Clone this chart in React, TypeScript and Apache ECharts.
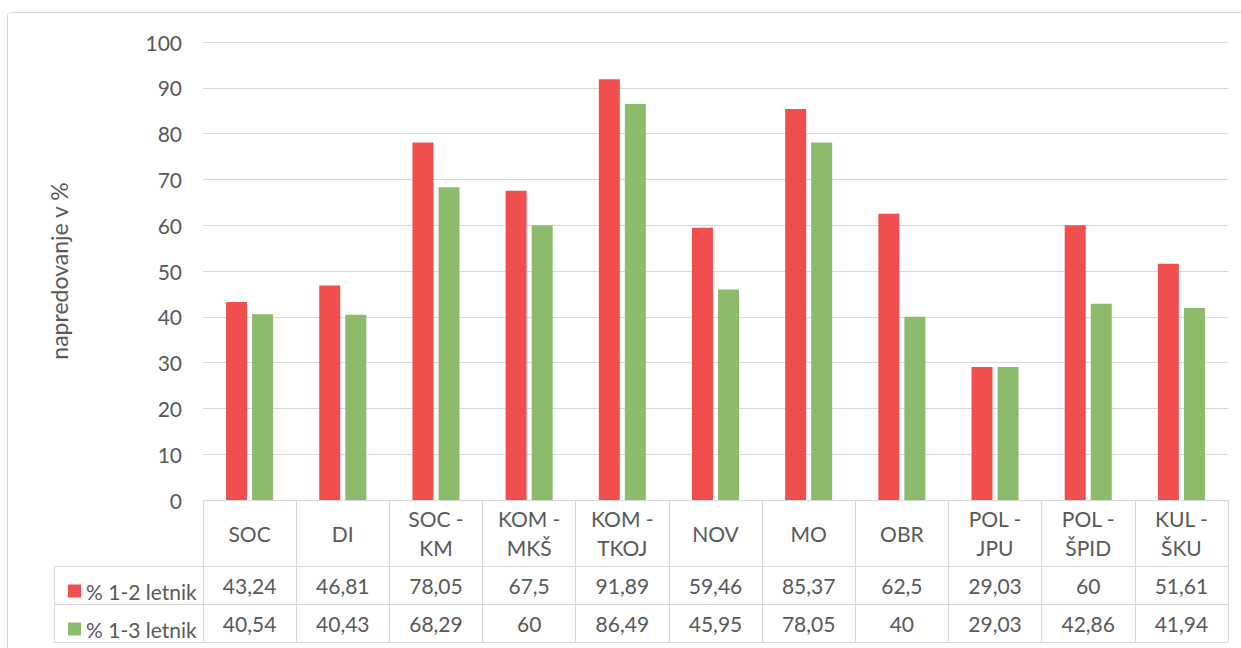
import React, { useEffect, useRef } from "react";
import * as echarts from "echarts";

const categories = ["SOC", "DI", "SOC -\nKM", "KOM -\nMKŠ", "KOM -\nTKOJ", "NOV", "MO", "OBR", "POL -\nJPU", "POL -\nŠPID", "KUL -\nŠKU"];
const seriesNames = ["% 1-2 letnik", "% 1-3 letnik"];
const values12 = [43.24, 46.81, 78.05, 67.5, 91.89, 59.46, 85.37, 62.5, 29.03, 60, 51.61];
const values13 = [40.54, 40.43, 68.29, 60, 86.49, 45.95, 78.05, 40, 29.03, 42.86, 41.94];
const yTicks = { min: 0, max: 100, interval: 10 };
const yName = "napredovanje v %";

const FONT = "Lato";
const TXT = "#595959";
const GRID = "#d9d9d9";
const RED = "#f14f4f";
const GREEN = "#8cbb6c";

const fmt = (v: number) => String(v).replace(".", ",");

export default function App() {
  const ref = useRef<HTMLDivElement>(null);
  useEffect(() => {
    if (!ref.current) return;
    const chart = echarts.init(ref.current, null, { renderer: "svg" });
    const fs = 21;
    const baseX = {
      type: "category" as const,
      data: categories,
      position: "bottom" as const,
      gridIndex: 0,
      boundaryGap: true,
      axisLine: { show: true, lineStyle: { color: GRID, width: 1 } },
      axisTick: { show: false },
      splitLine: { show: false },
    };
    chart.setOption({
      animation: false,
      textStyle: { fontFamily: FONT },
      grid: { left: 203, right: 13, top: 42, bottom: 148, containLabel: false },
      legend: {
        orient: "vertical",
        left: 63,
        top: 575,
        itemWidth: 13,
        itemHeight: 13,
        itemGap: 16,
        icon: "rect",
        data: seriesNames,
        textStyle: { fontFamily: FONT, fontSize: fs, color: TXT, lineHeight: 22 },
      },
      xAxis: [
        {
          ...baseX,
          axisTick: { show: true, length: 142, lineStyle: { color: GRID } },
          axisLabel: { fontFamily: FONT, fontSize: fs, color: TXT, lineHeight: 29, margin: 33, verticalAlign: "middle", interval: 0 },
        },
        {
          ...baseX,
          offset: 66,
          axisLabel: { fontFamily: FONT, fontSize: fs, color: TXT, margin: 19, verticalAlign: "middle", interval: 0, formatter: (_v: string, i: number) => fmt(values12[i]) },
        },
        {
          ...baseX,
          offset: 104,
          axisLabel: { fontFamily: FONT, fontSize: fs, color: TXT, margin: 19, verticalAlign: "middle", interval: 0, formatter: (_v: string, i: number) => fmt(values13[i]) },
        },
        {
          ...baseX,
          offset: 142,
          axisLabel: { show: false },
        },
      ],
      yAxis: {
        type: "value",
        min: yTicks.min,
        max: yTicks.max,
        interval: yTicks.interval,
        name: yName,
        nameLocation: "middle",
        nameRotate: 90,
        nameGap: 133,
        nameTextStyle: { fontFamily: FONT, fontSize: 23, color: TXT },
        axisLine: { show: false },
        axisTick: { show: false },
        axisLabel: { fontFamily: FONT, fontSize: fs, color: TXT, margin: 21 },
        splitLine: { lineStyle: { color: GRID, width: 1 } },
      },
      series: [
        { name: seriesNames[0], type: "bar", data: values12, barWidth: 21, barGap: "24%", itemStyle: { color: RED }, xAxisIndex: 0 },
        { name: seriesNames[1], type: "bar", data: values13, barWidth: 21, barGap: "24%", itemStyle: { color: GREEN }, xAxisIndex: 0 },
      ],
      graphic: [
        { type: "rect", shape: { x: 7.5, y: 12.5, width: 1300, height: 700, r: 4 }, style: { fill: "none", stroke: GRID, lineWidth: 1 }, silent: true },
        { type: "line", shape: { x1: 54, y1: 566.5, x2: 203, y2: 566.5 }, style: { stroke: GRID, lineWidth: 1 } },
        { type: "line", shape: { x1: 54, y1: 604.5, x2: 203, y2: 604.5 }, style: { stroke: GRID, lineWidth: 1 } },
        { type: "line", shape: { x1: 54, y1: 642.5, x2: 203, y2: 642.5 }, style: { stroke: GRID, lineWidth: 1 } },
        { type: "line", shape: { x1: 54.5, y1: 566, x2: 54.5, y2: 643 }, style: { stroke: GRID, lineWidth: 1 } },
      ],
    });
    return () => chart.dispose();
  }, []);
  return <div ref={ref} style={{ position: "fixed", left: 0, top: 0, width: 1241, height: 648, background: "#fff" }} />;
}
